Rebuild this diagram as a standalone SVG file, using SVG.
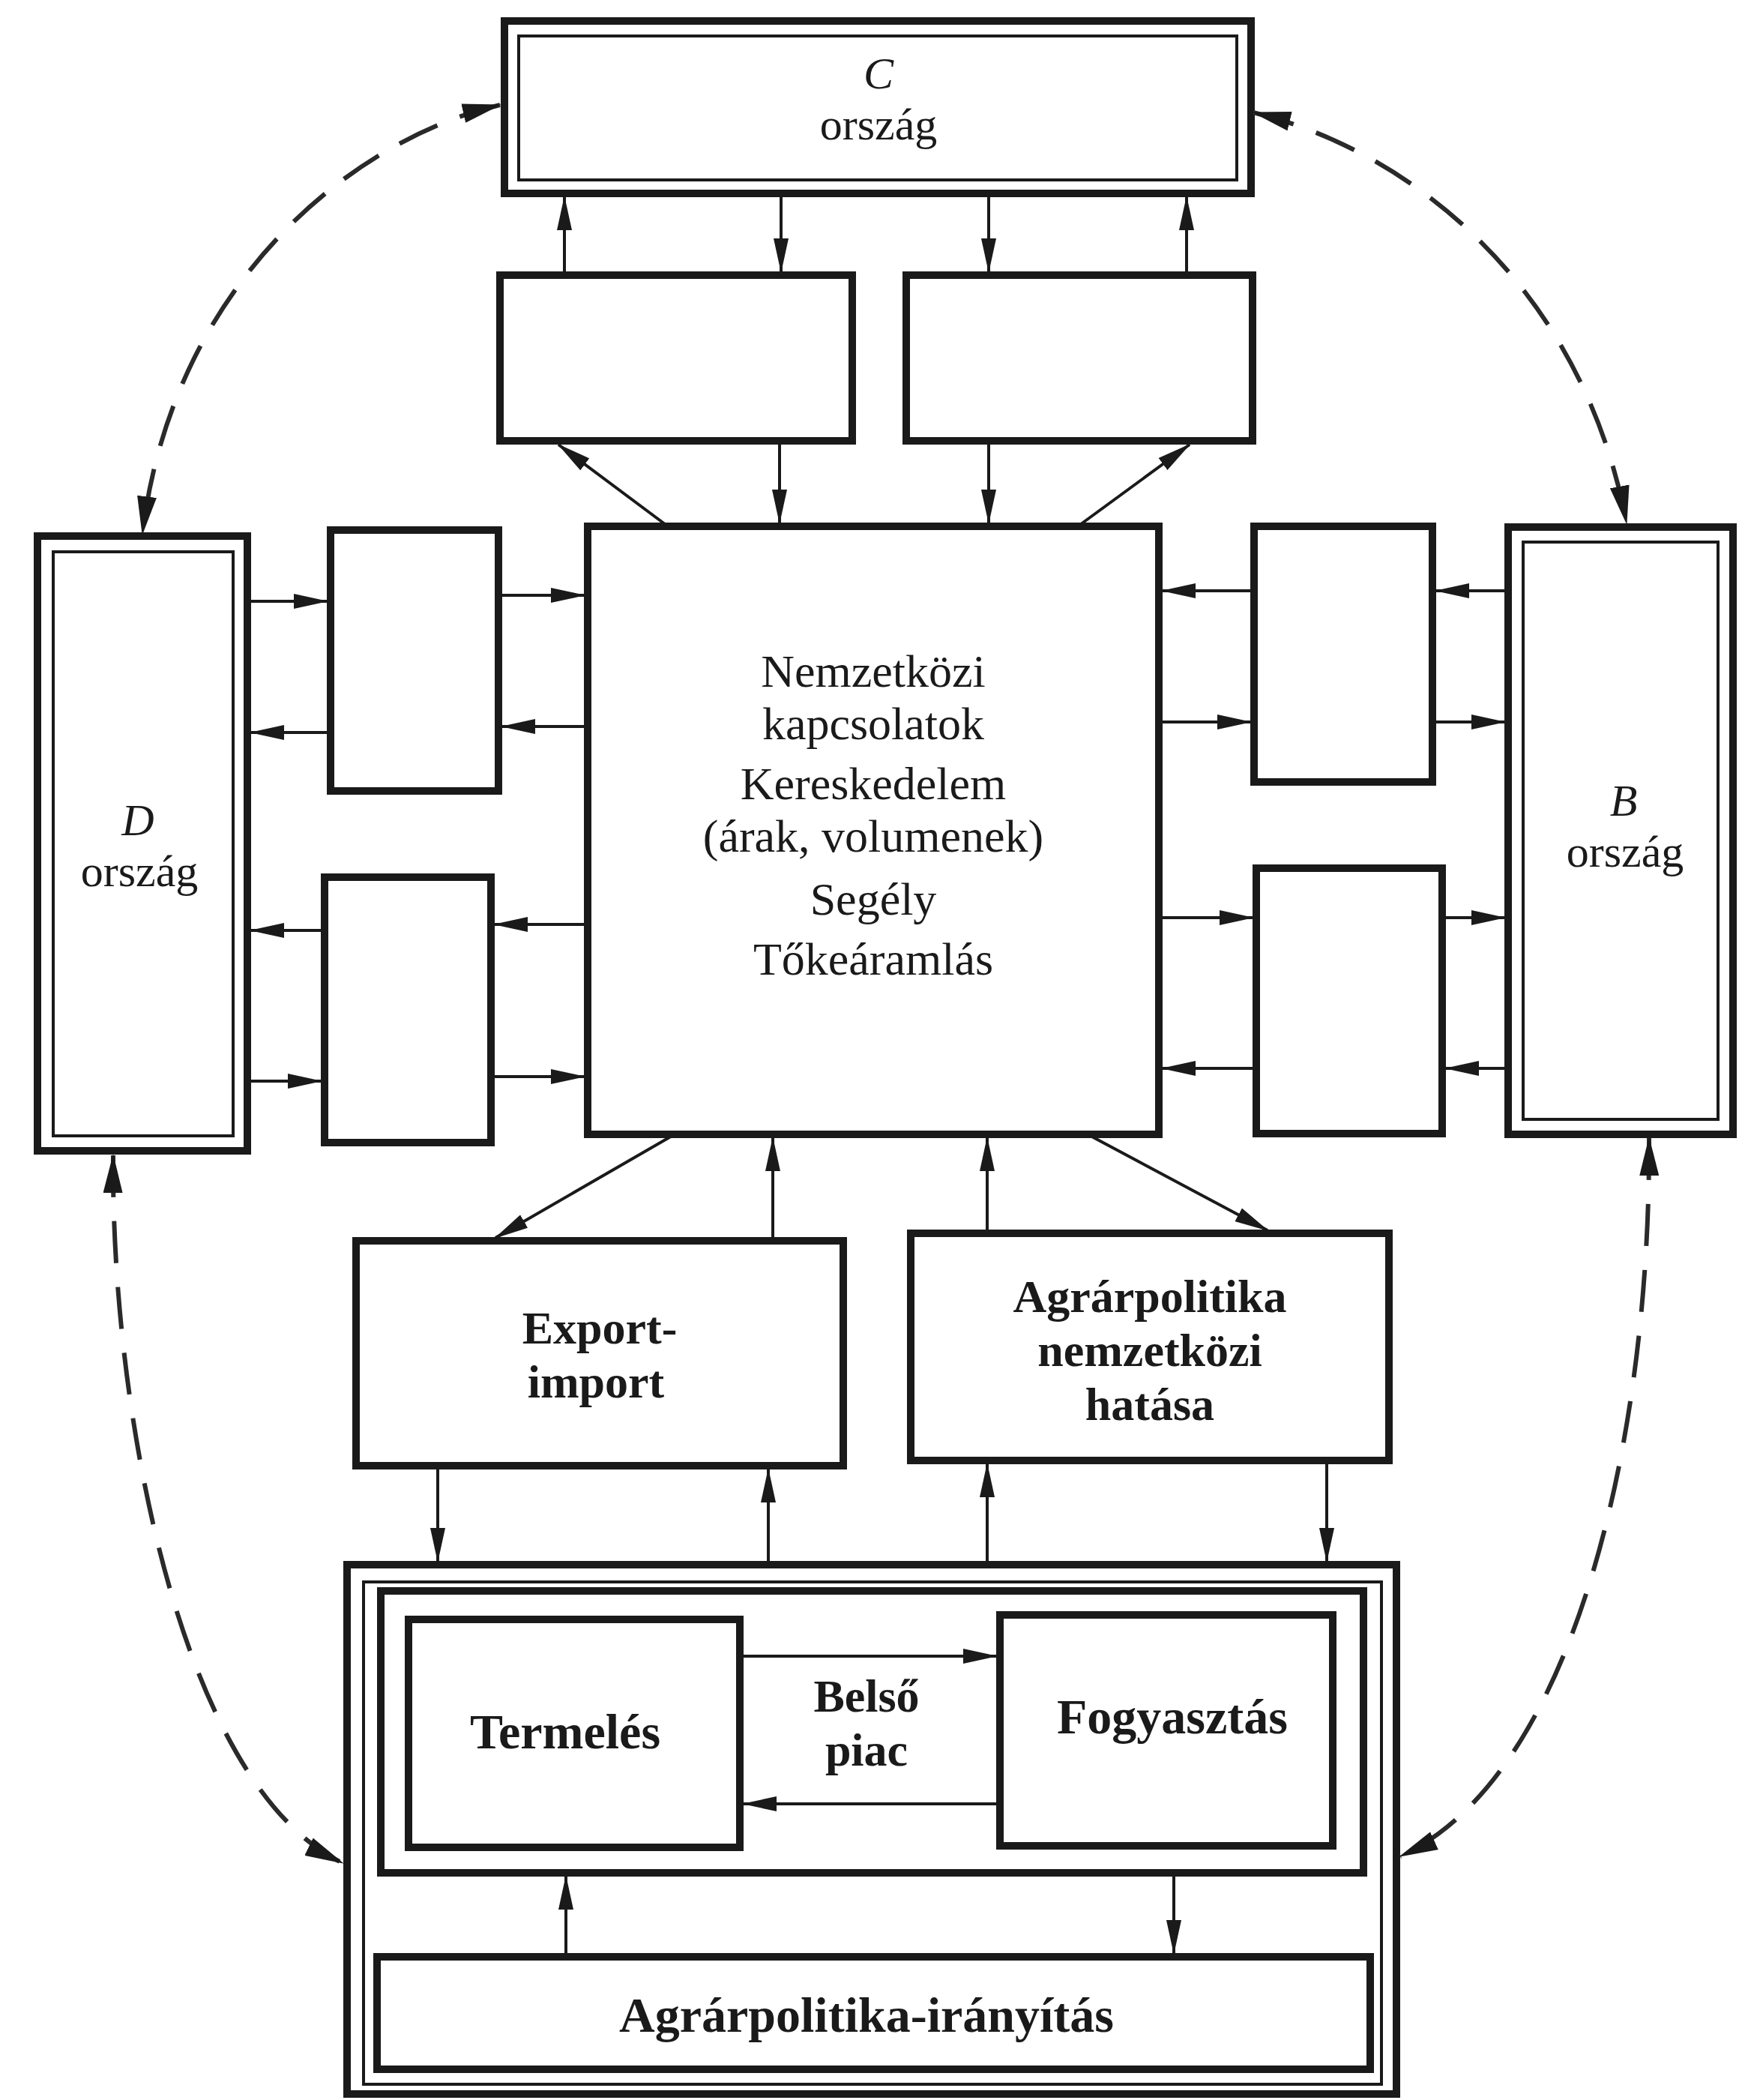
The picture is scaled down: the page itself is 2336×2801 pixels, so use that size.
<svg xmlns="http://www.w3.org/2000/svg" width="2336" height="2801" viewBox="0 0 2336 2801">
<style>
.bg{fill:#ffffff}
.box{fill:none;stroke:#1a1a1a;stroke-width:10}
.thin{fill:none;stroke:#1a1a1a;stroke-width:4}
.con{fill:none;stroke:#1a1a1a;stroke-width:4;marker-end:url(#ah)}
.dash{fill:none;stroke:#2a2a2a;stroke-width:6;stroke-dasharray:56 32;marker-start:url(#ahd);marker-end:url(#ahd)}
.t{font-family:"Liberation Serif","Times New Roman",serif;fill:#1a1a1a;text-anchor:middle}
.reg{font-size:62px}
.cty{font-size:60px}
.it{font-style:italic}
.bold{font-size:62px;font-weight:bold}
.big{font-size:66px;font-weight:bold}
</style>
<defs>
<marker id="ah" viewBox="0 0 46 20" refX="44" refY="10" markerWidth="46" markerHeight="20" markerUnits="userSpaceOnUse" orient="auto">
<path d="M0,0 L46,10 L0,20 z" fill="#1a1a1a"/>
</marker>
<marker id="ahd" viewBox="0 0 52 26" refX="50" refY="13" markerWidth="52" markerHeight="26" markerUnits="userSpaceOnUse" orient="auto-start-reverse">
<path d="M0,0 L52,13 L0,26 z" fill="#1a1a1a"/>
</marker>
</defs>
<rect class="bg" x="0" y="0" width="2336" height="2801"/>

<g id="node-C">
<rect class="box" x="673" y="28" width="996" height="230"/>
<rect class="thin" x="692" y="48" width="958" height="192"/>
<text class="t cty it" x="1172" y="118">C</text>
<text class="t cty" x="1172" y="186">ország</text>
</g>
<g id="node-top-left">
<rect class="box" x="667" y="367" width="470" height="221"/>
</g>
<g id="node-top-right">
<rect class="box" x="1209" y="367" width="462" height="221"/>
</g>
<g id="node-center">
<rect class="box" x="784" y="702" width="762" height="811"/>
<text class="t reg" x="1165" y="916">Nemzetközi</text>
<text class="t reg" x="1165" y="986">kapcsolatok</text>
<text class="t reg" x="1165" y="1066">Kereskedelem</text>
<text class="t reg" x="1165" y="1136">(árak, volumenek)</text>
<text class="t reg" x="1165" y="1220">Segély</text>
<text class="t reg" x="1165" y="1300">Tőkeáramlás</text>
</g>
<g id="node-D">
<rect class="box" x="50" y="715" width="280" height="820"/>
<rect class="thin" x="71" y="736" width="240" height="779"/>
<text class="t cty it" x="184" y="1114">D</text>
<text class="t cty" x="186" y="1182">ország</text>
</g>
<g id="node-left-1">
<rect class="box" x="441" y="707" width="224" height="348"/>
</g>
<g id="node-left-2">
<rect class="box" x="433" y="1170" width="222" height="354"/>
</g>
<g id="node-right-1">
<rect class="box" x="1673" y="702" width="238" height="341"/>
</g>
<g id="node-right-2">
<rect class="box" x="1676" y="1158" width="248" height="354"/>
</g>
<g id="node-B">
<rect class="box" x="2012" y="703" width="300" height="810"/>
<rect class="thin" x="2032" y="723" width="260" height="770"/>
<text class="t cty it" x="2166" y="1088">B</text>
<text class="t cty" x="2168" y="1156">ország</text>
</g>
<g id="node-export">
<rect class="box" x="475" y="1655" width="650" height="300"/>
<text class="t bold" x="800" y="1792">Export-</text>
<text class="t bold" x="795" y="1864">import</text>
</g>
<g id="node-agrar-int">
<rect class="box" x="1215" y="1645" width="638" height="303"/>
<text class="t bold" x="1534" y="1750">Agrárpolitika</text>
<text class="t bold" x="1534" y="1822">nemzetközi</text>
<text class="t bold" x="1534" y="1894">hatása</text>
</g>
<g id="node-domestic">
<rect class="box" x="463" y="2087" width="1400" height="706"/>
<rect class="thin" x="485" y="2110" width="1358" height="670"/>
<rect class="box" x="508" y="2122" width="1311" height="376"/>
<text class="t bold" x="1156" y="2283">Belső</text>
<text class="t bold" x="1156" y="2355">piac</text>
</g>
<g id="node-termeles">
<rect class="box" x="545" y="2160" width="442" height="304"/>
<text class="t big" x="754" y="2332">Termelés</text>
</g>
<g id="node-fogyasztas">
<rect class="box" x="1334" y="2154" width="444" height="308"/>
<text class="t big" x="1564" y="2312">Fogyasztás</text>
</g>
<g id="node-agrar-iranyitas">
<rect class="box" x="503" y="2610" width="1325" height="150"/>
<text class="t big" x="1156" y="2710">Agrárpolitika-irányítás</text>
</g>

<g id="connectors">
<line class="con" x1="753" y1="367" x2="753" y2="263"/>
<line class="con" x1="1042" y1="258" x2="1042" y2="362"/>
<line class="con" x1="1319" y1="258" x2="1319" y2="362"/>
<line class="con" x1="1583" y1="367" x2="1583" y2="263"/>
<line class="con" x1="891" y1="702" x2="745" y2="593"/>
<line class="con" x1="1040" y1="588" x2="1040" y2="697"/>
<line class="con" x1="1319" y1="588" x2="1319" y2="697"/>
<line class="con" x1="1438" y1="702" x2="1587" y2="593"/>

<line class="con" x1="330" y1="802" x2="436" y2="802"/>
<line class="con" x1="441" y1="977" x2="335" y2="977"/>
<line class="con" x1="665" y1="794" x2="779" y2="794"/>
<line class="con" x1="784" y1="969" x2="670" y2="969"/>
<line class="con" x1="433" y1="1241" x2="335" y2="1241"/>
<line class="con" x1="330" y1="1442" x2="428" y2="1442"/>
<line class="con" x1="784" y1="1233" x2="660" y2="1233"/>
<line class="con" x1="655" y1="1436" x2="779" y2="1436"/>

<line class="con" x1="1673" y1="788" x2="1551" y2="788"/>
<line class="con" x1="2012" y1="788" x2="1916" y2="788"/>
<line class="con" x1="1546" y1="963" x2="1668" y2="963"/>
<line class="con" x1="1911" y1="963" x2="2007" y2="963"/>
<line class="con" x1="1546" y1="1224" x2="1671" y2="1224"/>
<line class="con" x1="1924" y1="1224" x2="2007" y2="1224"/>
<line class="con" x1="1676" y1="1425" x2="1551" y2="1425"/>
<line class="con" x1="2012" y1="1425" x2="1929" y2="1425"/>

<line class="con" x1="900" y1="1513" x2="661" y2="1651"/>
<line class="con" x1="1031" y1="1655" x2="1031" y2="1518"/>
<line class="con" x1="1317" y1="1645" x2="1317" y2="1518"/>
<line class="con" x1="1451" y1="1513" x2="1691" y2="1641"/>
<line class="con" x1="584" y1="1955" x2="584" y2="2082"/>
<line class="con" x1="1025" y1="2087" x2="1025" y2="1960"/>
<line class="con" x1="1317" y1="2087" x2="1317" y2="1953"/>
<line class="con" x1="1770" y1="1948" x2="1770" y2="2082"/>

<line class="con" x1="987" y1="2209" x2="1329" y2="2209"/>
<line class="con" x1="1334" y1="2406" x2="992" y2="2406"/>
<line class="con" x1="755" y1="2610" x2="755" y2="2503"/>
<line class="con" x1="1566" y1="2498" x2="1566" y2="2605"/>

<path class="dash" d="M667,140 C470,185 230,380 190,712"/>
<path class="dash" d="M1672,150 C1880,200 2110,380 2170,698"/>
<path class="dash" d="M151,1541 C148,1880 240,2380 457,2485"/>
<path class="dash" d="M2200,1518 C2202,1920 2100,2370 1868,2476"/>
</g>
</svg>
